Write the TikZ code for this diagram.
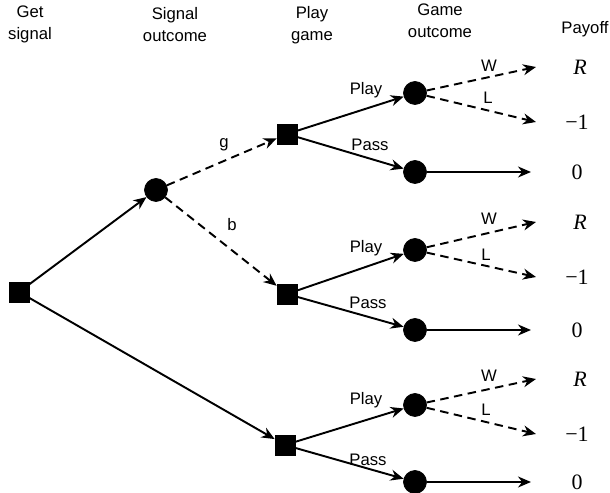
\documentclass[tikz,border=0pt]{standalone}
\usepackage{fontspec}
\setmainfont{Liberation Sans}
\newfontfamily\payfont{Liberation Serif}
\usetikzlibrary{arrows.meta}
\definecolor{treeblack}{HTML}{000000}

\tikzset{
    decbox/.style={draw=treeblack, fill=treeblack, minimum size=4mm, inner sep=0pt},
    chancedot/.style={circle, draw=treeblack, fill=treeblack, minimum size=4.6mm, inner sep=0pt},
    branch/.style={line width=1.1pt, -{Stealth[length=2.6mm, width=2.2mm]}},
    dashbranch/.style={branch, dash pattern=on 1.7mm off 1.1mm},
    headlbl/.style={font=\fontsize{9.5}{12.5}\selectfont, align=center},
    edgelbl/.style={font=\fontsize{9.5}{11}\selectfont, inner sep=1pt},
    paylbl/.style={font=\payfont\fontsize{12.5}{14}\selectfont, inner sep=1pt}
}

\begin{document}
\begin{tikzpicture}[x=0.02cm, y=-0.02cm]
    \useasboundingbox (0,0) rectangle (610,493);

    % Column headings
    \node[headlbl] (hget) at (30,24) {Get\\signal};
    \node[headlbl] (hsig) at (175,25) {Signal\\outcome};
    \node[headlbl] (hplay) at (312,25) {Play\\game};
    \node[headlbl] (hgame) at (440,21) {Game\\outcome};
    \node[headlbl] (hpay) at (585,29) {Payoff};

    % Decision and chance nodes
    \node[decbox] (root) at (19,292) {};
    \node[chancedot] (sig) at (156,190) {};
    \node[decbox] (gsq) at (287,134) {};
    \node[decbox] (bsq) at (287,294) {};
    \node[decbox] (nsq) at (285,445) {};

    \node[chancedot] (gplay) at (415,93) {};
    \node[chancedot] (gpass) at (415,172) {};
    \node[chancedot] (bplay) at (415,250) {};
    \node[chancedot] (bpass) at (415,330) {};
    \node[chancedot] (nplay) at (415,405) {};
    \node[chancedot] (npass) at (415,482) {};

    % Payoffs
    \node[paylbl] (gwin) at (580,67) {\itshape R};
    \node[paylbl] (glose) at (577,122) {−1};
    \node[paylbl] (gzero) at (577,172) {0};
    \node[paylbl] (bwin) at (580,222) {\itshape R};
    \node[paylbl] (blose) at (577,277) {−1};
    \node[paylbl] (bzero) at (577,330) {0};
    \node[paylbl] (nwin) at (580,379) {\itshape R};
    \node[paylbl] (nlose) at (577,434) {−1};
    \node[paylbl] (nzero) at (577,482) {0};

    % Arrow ends
    \coordinate (gwend) at (536,67);
    \coordinate (glend) at (536,122);
    \coordinate (gpend) at (531,172);
    \coordinate (bwend) at (536,222);
    \coordinate (blend) at (536,277);
    \coordinate (bpend) at (531,330);
    \coordinate (nwend) at (536,379);
    \coordinate (nlend) at (536,434);
    \coordinate (npend) at (531,482);

    % Signal stage
    \draw[branch] (root) -- (sig);
    \draw[branch] (root) -- (nsq);
    \draw[dashbranch] (sig) -- (gsq);
    \draw[dashbranch] (sig) -- (bsq);
    \node[edgelbl] (glbl) at (224,145) {g};
    \node[edgelbl] (blbl) at (232,225) {b};

    % Play or pass
    \draw[branch] (gsq) -- (gplay);
    \draw[branch] (gsq) -- (gpass);
    \draw[branch] (bsq) -- (bplay);
    \draw[branch] (bsq) -- (bpass);
    \draw[branch] (nsq) -- (nplay);
    \draw[branch] (nsq) -- (npass);
    \node[edgelbl] at (366,90) {Play};
    \node[edgelbl] at (370,145) {Pass};
    \node[edgelbl] at (366,248) {Play};
    \node[edgelbl] at (368,303) {Pass};
    \node[edgelbl] at (366,400) {Play};
    \node[edgelbl] at (368,460) {Pass};

    % Game outcome
    \draw[dashbranch] (gplay) -- (gwend);
    \draw[dashbranch] (gplay) -- (glend);
    \draw[branch] (gpass) -- (gpend);
    \draw[dashbranch] (bplay) -- (bwend);
    \draw[dashbranch] (bplay) -- (blend);
    \draw[branch] (bpass) -- (bpend);
    \draw[dashbranch] (nplay) -- (nwend);
    \draw[dashbranch] (nplay) -- (nlend);
    \draw[branch] (npass) -- (npend);
    \node[edgelbl] at (489,66) {W};
    \node[edgelbl] at (488,98) {L};
    \node[edgelbl] at (489,219) {W};
    \node[edgelbl] at (486,255) {L};
    \node[edgelbl] at (489,376) {W};
    \node[edgelbl] at (486,410) {L};
\end{tikzpicture}
\end{document}
